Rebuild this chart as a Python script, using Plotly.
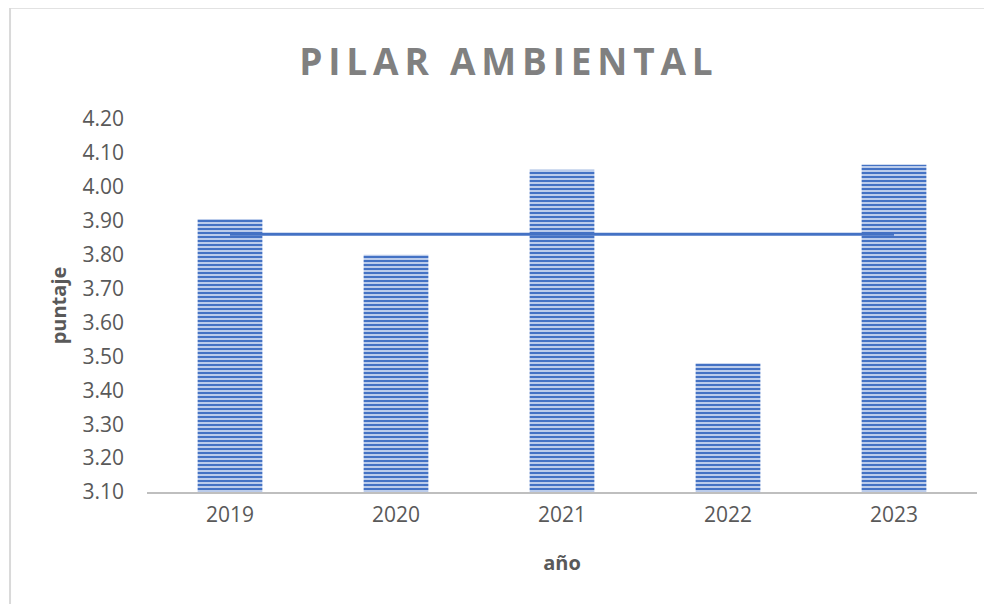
import plotly.graph_objects as go

anios = ["2019", "2020", "2021", "2022", "2023"]
puntaje = [3.905, 3.80, 4.05, 3.48, 4.065]
promedio = [3.86, 3.86, 3.86, 3.86, 3.86]

azul = "#4472C4"
gris_texto = "#595959"

fig = go.Figure()
fig.add_trace(go.Bar(
    x=anios, y=puntaje,
    marker=dict(
        color="#c9d6ef",
        line=dict(width=0),
        pattern=dict(shape="-", fgcolor=azul, fgopacity=1, bgcolor="#c8d6f0",
                     size=4, solidity=0.55, fillmode="overlay"),
    ),
    width=0.39,
    showlegend=False,
))
fig.add_trace(go.Scatter(
    x=anios, y=promedio, mode="lines",
    line=dict(color=azul, width=3),
    showlegend=False,
))

# marco del grafico
fig.add_shape(type="rect", xref="paper", yref="paper",
              x0=-0.165, x1=1.05, y0=-0.35, y1=1.298,
              line=dict(color="#d9d9d9", width=2), fillcolor="rgba(0,0,0,0)", layer="below")

# la pagina deja 8px de margen, por eso 984x596
fig.update_layout(
    width=984, height=596,
    paper_bgcolor="white", plot_bgcolor="white",
    margin=dict(l=139, r=15, t=111, b=112),
    font=dict(family="Open Sans", color=gris_texto),
    title=dict(
        text='<span style="letter-spacing:5.8px"><b>PILAR AMBIENTAL</b></span>',
        x=0.509, xanchor="center", y=1 - 54 / 596, yanchor="middle",
        font=dict(size=37, color="#808080", family="Open Sans"),
    ),
    xaxis=dict(
        showline=True, linecolor="#bfbfbf", linewidth=2,
        showgrid=False, ticks="", ticklabelstandoff=3,
        tickfont=dict(size=21, color=gris_texto),
        title=dict(text="<b>año</b>", font=dict(size=20, color=gris_texto), standoff=29),
    ),
    yaxis=dict(
        range=[3.1, 4.2], dtick=0.1, tickformat=".2f",
        showgrid=False, zeroline=False, showline=False, ticks="",
        ticklabelstandoff=22,
        tickfont=dict(size=21, color=gris_texto),
        title=dict(text="<b>puntaje</b>", font=dict(size=20, color=gris_texto), standoff=10),
    ),
)

fig.write_html("out.html")
